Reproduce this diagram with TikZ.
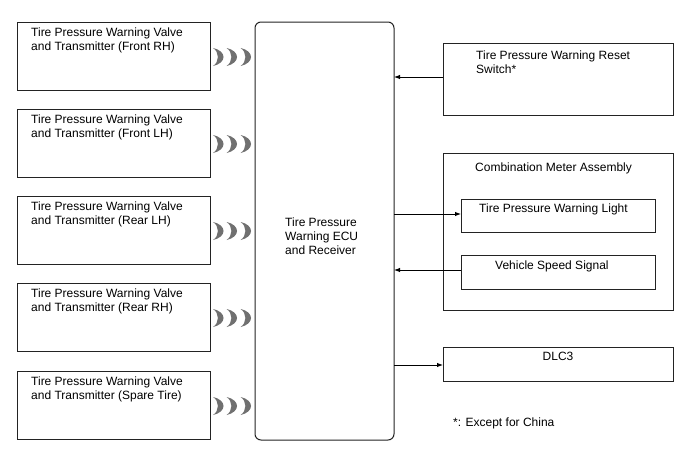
\documentclass[tikz,border=0pt]{standalone}
\usepackage{fontspec}
\setmainfont{Liberation Sans}
\usetikzlibrary{arrows.meta}
\definecolor{wave}{RGB}{112,112,112}
\definecolor{edge}{RGB}{35,35,35}
\begin{document}
\begin{tikzpicture}[x=1pt,y=-1pt,
  box/.style={draw=edge, line width=1pt, anchor=north west, inner sep=0pt, outer sep=0pt},
  lbl/.style={anchor=base west, inner sep=0pt, align=left, font=\fontsize{12}{14}\selectfont},
  conn/.style={line width=1pt, -{Latex[length=6pt,width=4.5pt]}},
  crescent/.pic={\fill[wave] (0,-9) .. controls (14,-6) and (14,6) .. (0,9)
                              .. controls (6.5,5) and (6.5,-5) .. (0,-9);}
]
\useasboundingbox (0,0) rectangle (688,463);
\fill[white] (0,0) rectangle (688,463);

% left transmitter boxes
\foreach \i/\y/\t in {1/22/Front RH, 2/109/Front LH, 3/196/Rear LH, 4/283/Rear RH, 5/371/Spare Tire}{
  \node[box, minimum width=193pt, minimum height=68pt] (t\i) at (17,\y) {};
  \node[lbl] (t\i txt) at (31,\y+28) {Tire Pressure Warning Valve\\and Transmitter (\t)};
  \coordinate (w\i) at ([xshift=3pt]t\i.east);
  \path (w\i) ++(0,1) pic {crescent} ++(13.5,0) pic {crescent} ++(14,0) pic {crescent};
}

% ECU
\node[box, rounded corners=6pt, minimum width=139pt, minimum height=418pt] (ecu) at (255,22) {};
\node[lbl] (ecutxt) at (285,254) {Tire Pressure\\Warning ECU\\and Receiver};

% reset switch
\node[box, minimum width=230pt, minimum height=72pt] (reset) at (443,43) {};
\node[lbl] (resettxt) at (476,73) {Tire Pressure Warning Reset\\Switch*};

% combination meter
\node[box, minimum width=230pt, minimum height=157pt] (meter) at (443,153) {};
\node[lbl] (metertxt) at (475,171) {Combination Meter Assembly};
\node[box, minimum width=194pt, minimum height=33pt] (light) at (461,199) {};
\node[lbl] (lighttxt) at (479,212) {Tire Pressure Warning Light};
\node[box, minimum width=194pt, minimum height=34pt] (speed) at (461,255) {};
\node[lbl] (speedtxt) at (495,269) {Vehicle Speed Signal};

% DLC3
\node[box, minimum width=230pt, minimum height=34pt] (dlc) at (443,347) {};
\node[lbl, anchor=base] (dlctxt) at (558,360) {DLC3};

\node[lbl] (note) at (453,426) {*: Except for China};

% connectors
\draw[conn] ([yshift=2pt]reset.west) -- ([yshift=2pt]reset.west -| ecu.east);
\draw[conn] ([yshift=1.5pt]light.west -| ecu.east) -- ([yshift=1.5pt]light.west);
\draw[conn] ([yshift=2pt]speed.west) -- ([yshift=2pt]speed.west -| ecu.east);
\draw[conn] ([yshift=-1pt]dlc.west -| ecu.east) -- ([yshift=-1pt]dlc.west);
\end{tikzpicture}
\end{document}
